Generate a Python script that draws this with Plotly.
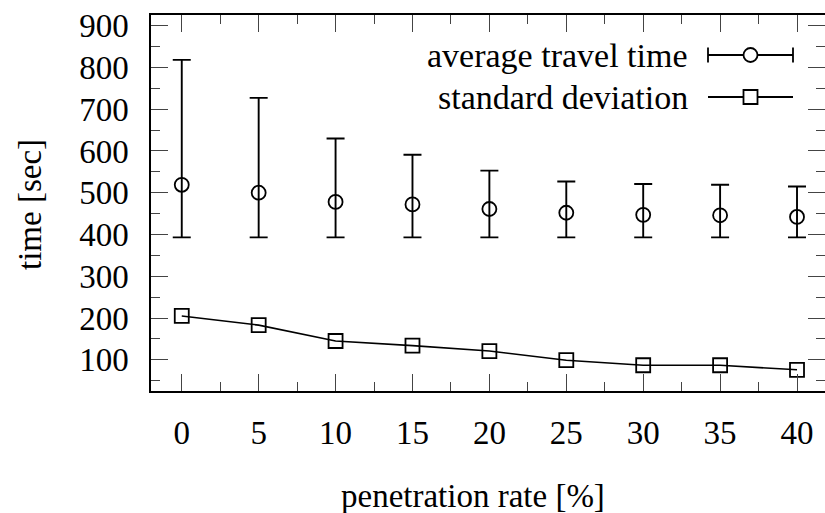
import plotly.graph_objects as go

penetration = [0, 5, 10, 15, 20, 25, 30, 35, 40]
avg_time = [519, 500, 478, 472, 461, 452, 447, 446, 442]
avg_upper = [818, 727, 630, 591, 553, 527, 521, 519, 515]
avg_lower = [393, 393, 393, 393, 393, 393, 393, 393, 393]
std_dev = [205, 183, 145, 134, 121, 99, 87, 87, 76]
y_ticks = [100, 200, 300, 400, 500, 600, 700, 800, 900]
x_ticks = [0, 5, 10, 15, 20, 25, 30, 35, 40]
legend_labels = ["average travel time", "standard deviation"]
x_title = "penetration rate [%]"
y_title = "time [sec]"

FONT = "Liberation Serif"
FS = 33
FS_LEG = 34

err_plus = [u - m for u, m in zip(avg_upper, avg_time)]
err_minus = [m - l for m, l in zip(avg_time, avg_lower)]

fig = go.Figure()
fig.add_trace(go.Scatter(
    x=penetration, y=avg_time, mode="markers", name=legend_labels[0],
    marker=dict(symbol="circle-open", size=14, color="black", line=dict(width=1.8, color="black")),
    error_y=dict(type="data", symmetric=False, array=err_plus, arrayminus=err_minus,
                 color="black", thickness=1.9, width=9),
    showlegend=False, hoverinfo="skip",
))
fig.add_trace(go.Scatter(
    x=penetration, y=std_dev, mode="lines+markers", name=legend_labels[1],
    line=dict(color="black", width=1.6),
    marker=dict(symbol="square-open", size=14, color="black", line=dict(width=1.8, color="black")),
    showlegend=False, hoverinfo="skip",
))

# Legend (gnuplot style: text on the left, sample on the right)
L, R, T, B = 151, 825, 15, 391
def px(x):
    return (x - L) / (R - L)
def py(y):
    return 1 - (y - T) / (B - T)

rows = [55, 97]
shapes = []
annotations = []
for i, lab in enumerate(legend_labels):
    yy = py(rows[i])
    annotations.append(dict(x=px(690), y=yy, xref="paper", yref="paper", text=lab,
                            showarrow=False, xanchor="right", yanchor="middle",
                            font=dict(family=FONT, size=FS_LEG, color="black")))
    shapes.append(dict(type="line", xref="paper", yref="paper", x0=px(708), x1=px(793),
                       y0=yy, y1=yy, line=dict(color="black", width=1.8)))
    if i == 0:
        for xc in (708, 793):
            shapes.append(dict(type="line", xref="paper", yref="paper", x0=px(xc), x1=px(xc),
                               y0=py(rows[i] - 7.5), y1=py(rows[i] + 7.5),
                               line=dict(color="black", width=1.8)))
        shapes.append(dict(type="circle", xref="paper", yref="paper", xsizemode="pixel",
                           ysizemode="pixel", xanchor=px(750.5), yanchor=yy,
                           x0=-7, x1=7, y0=-7, y1=7, fillcolor="white",
                           line=dict(color="black", width=1.8)))
    else:
        shapes.append(dict(type="rect", xref="paper", yref="paper", xsizemode="pixel",
                           ysizemode="pixel", xanchor=px(750.5), yanchor=yy,
                           x0=-7, x1=7, y0=-7, y1=7, fillcolor="white",
                           line=dict(color="black", width=1.8)))

# Axis titles
annotations.append(dict(x=px(473), y=py(496), xref="paper", yref="paper", text=x_title,
                        showarrow=False, xanchor="center", yanchor="middle",
                        font=dict(family=FONT, size=FS, color="black")))
annotations.append(dict(x=px(30), y=py(205), xref="paper", yref="paper", text=y_title,
                        showarrow=False, xanchor="center", yanchor="middle", textangle=-90,
                        font=dict(family=FONT, size=FS, color="black")))

axis_common = dict(
    showgrid=False, zeroline=False, showline=True, linecolor="black", linewidth=1.5,
    mirror="allticks", ticks="inside", ticklen=17, tickcolor="#444", tickwidth=1.2,
    tickfont=dict(family=FONT, size=FS, color="black"), automargin=False,
)

fig.update_layout(
    width=825, height=513,
    margin=dict(l=151, r=0, t=15, b=122),
    paper_bgcolor="white", plot_bgcolor="white",
    shapes=shapes, annotations=annotations, hovermode=False,
    xaxis=dict(**axis_common, range=[-2, 41.82], tickvals=x_ticks,
               ticktext=[str(v) for v in x_ticks], ticklabelstandoff=12,
               minor=dict(dtick=2.5, tick0=0, ticks="inside", ticklen=9, tickcolor="#444", tickwidth=1.2)),
    yaxis=dict(**axis_common, range=[25.3, 925.5], tickvals=y_ticks,
               ticktext=[str(v) for v in y_ticks], ticklabelstandoff=14,
               minor=dict(dtick=50, tick0=0, ticks="inside", ticklen=9, tickcolor="#444", tickwidth=1.2)),
)

fig.write_html("out.html", config={"displayModeBar": False},
               post_script="document.body.style.margin='0';document.body.style.overflow='hidden';")
